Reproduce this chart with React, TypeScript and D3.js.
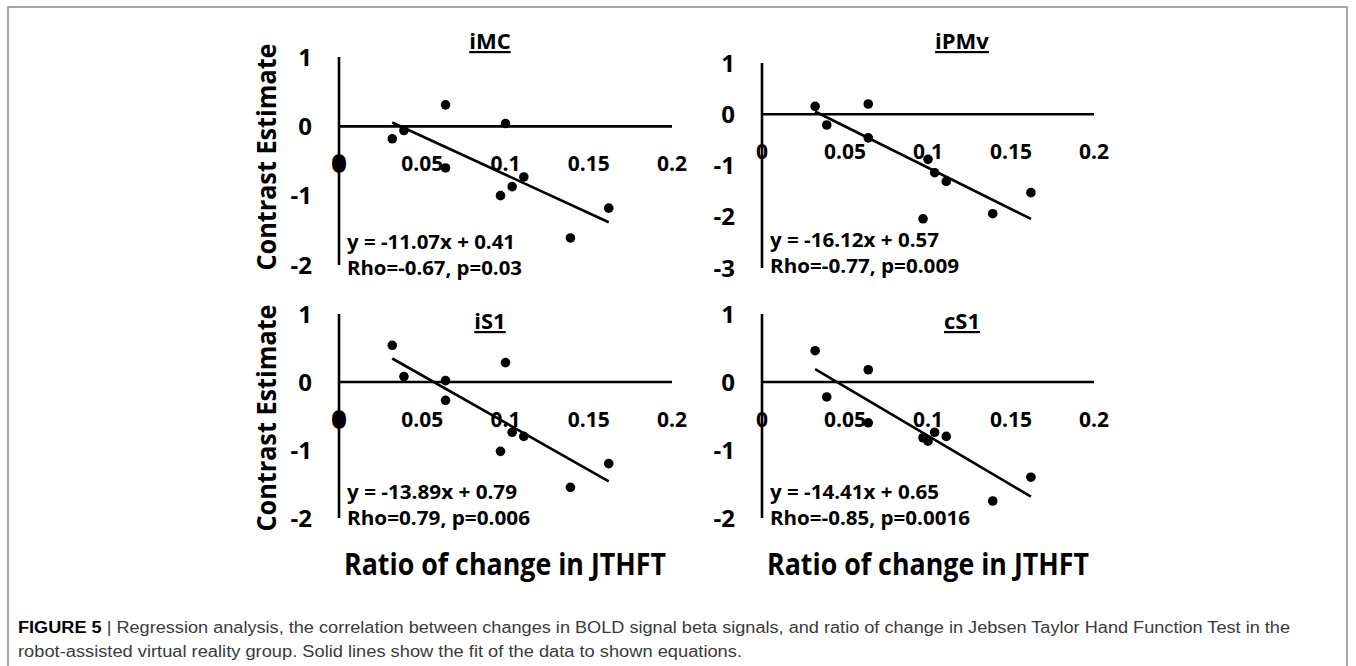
import React from "react";
import * as d3 from "d3";

// ratio of change in JTHFT, one value per subject (same subjects in every panel)
const ratioChange = [0.032, 0.039, 0.064, 0.064, 0.1, 0.097, 0.104, 0.111, 0.139, 0.162];

const regions = ["iMC", "iPMv", "iS1", "cS1"];
const contrastIMC = [-0.18, -0.06, 0.31, -0.6, 0.04, -1.0, -0.87, -0.73, -1.61, -1.18];
const contrastIPMv = [0.155, -0.21, 0.2, -0.46, -0.88, -2.04, -1.14, -1.31, -1.94, -1.53];
const contrastIS1 = [0.54, 0.08, 0.02, -0.27, 0.285, -1.02, -0.74, -0.8, -1.55, -1.2];
const contrastCS1 = [0.46, -0.22, 0.18, -0.6, -0.87, -0.82, -0.74, -0.8, -1.75, -1.4];
const contrasts = [contrastIMC, contrastIPMv, contrastIS1, contrastCS1];

const slopes = [-11.07, -16.12, -13.89, -14.41];
const intercepts = [0.41, 0.57, 0.79, 0.65];
const equations = ["y = -11.07x + 0.41", "y = -16.12x + 0.57", "y = -13.89x + 0.79", "y = -14.41x + 0.65"];
const stats = ["Rho=-0.67, p=0.03", "Rho=-0.77, p=0.009", "Rho=0.79, p=0.006", "Rho=-0.85, p=0.0016"];

const xTicks = [0, 0.05, 0.1, 0.15, 0.2];
const xTickLabels = ["0", "0.05", "0.1", "0.15", "0.2"];
const yMins = [-2, -3, -2, -2];
const yMax = 1;

const yTitle = "Contrast Estimate";
const xTitle = "Ratio of change in JTHFT";
const captionBold = "FIGURE 5";
const captionLine1 =
  " | Regression analysis, the correlation between changes in BOLD signal beta signals, and ratio of change in Jebsen Taylor Hand Function Test in the";
const captionLine2 =
  "robot-assisted virtual reality group. Solid lines show the fit of the data to shown equations.";

// panel frames in page pixels
const frames = [
  { x0: 339, x1: 672, yTop: 57, yBottom: 265, tickRight: 312, titleX: 490, titleY: 49, eqY: 249, eqW: 168, stW: 175, blob: true },
  { x0: 762, x1: 1094, yTop: 63, yBottom: 268, tickRight: 735, titleX: 962, titleY: 49, eqY: 247, eqW: 169, stW: 189, blob: false },
  { x0: 339, x1: 672, yTop: 314, yBottom: 518, tickRight: 312, titleX: 490, titleY: 329, eqY: 499, eqW: 170, stW: 183, blob: true },
  { x0: 762, x1: 1094, yTop: 314, yBottom: 518, tickRight: 735, titleX: 962, titleY: 329, eqY: 499, eqW: 169, stW: 200, blob: false },
];

const font = "'Open Sans', 'Noto Sans', sans-serif";

function Panel({ i }: { i: number }) {
  const f = frames[i];
  const x = d3.scaleLinear().domain([0, 0.2]).range([f.x0, f.x1]);
  const y = d3.scaleLinear().domain([yMins[i], yMax]).range([f.yBottom, f.yTop]);
  const yTicks = d3.range(yMax, yMins[i] - 0.5, -1);
  const pts = ratioChange.map((r, k) => [r, contrasts[i][k]] as [number, number]);
  const [lo, hi] = d3.extent(ratioChange) as [number, number];
  const fit = d3.line<number>()
    .x((v) => x(v))
    .y((v) => y(slopes[i] * v + intercepts[i]));
  const labelY = y(0) + 37;

  return (
    <g fontFamily={font} fontWeight="bold" fill="#000">
      <text
        x={f.titleX}
        y={f.titleY}
        textAnchor="middle"
        fontSize={22}
        style={{ textDecoration: "underline" }}
      >
        {regions[i]}
      </text>
      {/* axes */}
      <line x1={x(0)} x2={x(0)} y1={y(yMax)} y2={y(yMins[i])} stroke="#000" strokeWidth={2.6} />
      <line x1={x(0)} x2={x(0.2)} y1={y(0)} y2={y(0)} stroke="#000" strokeWidth={2.6} />
      {yTicks.map((t) => (
        <text key={t} x={f.tickRight} y={y(t)} dy="0.36em" textAnchor="end" fontSize={24}>
          {t < 0 ? `-${Math.abs(t)}` : `${t}`}
        </text>
      ))}
      {xTicks.map((t, k) => (
        <text
          key={t}
          x={x(t)}
          y={labelY}
          dy="0.36em"
          textAnchor="middle"
          fontSize={21}
          stroke={k === 0 && f.blob ? "#000" : "none"}
          strokeWidth={k === 0 && f.blob ? 3.5 : 0}
        >
          {xTickLabels[k]}
        </text>
      ))}
      {/* fit */}
      <path d={fit([lo, hi]) || ""} stroke="#000" strokeWidth={2.6} fill="none" />
      {pts.map(([a, b], k) => (
        <circle key={k} cx={x(a)} cy={y(b)} r={4.8} fill="#000" />
      ))}
      <text x={f.x0 + 8} y={f.eqY} fontSize={20} textLength={f.eqW} lengthAdjust="spacingAndGlyphs">
        {equations[i]}
      </text>
      <text x={f.x0 + 8} y={f.eqY + 26} fontSize={20} textLength={f.stW} lengthAdjust="spacingAndGlyphs">
        {stats[i]}
      </text>
    </g>
  );
}

export default function App() {
  return (
    <svg
      width={1356}
      height={666}
      style={{ position: "absolute", left: 0, top: 0, background: "#fff" }}
    >
      <rect x={8} y={7} width={1339} height={680} fill="#fff" stroke="#8a8a8a" strokeWidth={1.5} />
      {regions.map((_, i) => (
        <Panel key={i} i={i} />
      ))}
      {[157, 418].map((cy, k) => (
        <text
          key={k}
          transform={`translate(276,${cy}) rotate(-90)`}
          textAnchor="middle"
          fontFamily={font}
          fontWeight="bold"
          fontSize={27}
          textLength={227}
          lengthAdjust="spacingAndGlyphs"
        >
          {yTitle}
        </text>
      ))}
      {[505, 928].map((cx, k) => (
        <text
          key={k}
          x={cx}
          y={575}
          textAnchor="middle"
          fontFamily={font}
          fontWeight="bold"
          fontSize={30}
          textLength={322}
          lengthAdjust="spacingAndGlyphs"
        >
          {xTitle}
        </text>
      ))}
      <g fontFamily="'Liberation Sans', Arial, sans-serif" fontSize={16}>
        <text x={18} y={633} textLength={1272} lengthAdjust="spacingAndGlyphs" fill="#3a3a3a">
          <tspan fontWeight="bold" fill="#000">{captionBold}</tspan>
          <tspan>{captionLine1}</tspan>
        </text>
        <text x={18} y={657} textLength={724} lengthAdjust="spacingAndGlyphs" fill="#3a3a3a">
          {captionLine2}
        </text>
      </g>
    </svg>
  );
}
